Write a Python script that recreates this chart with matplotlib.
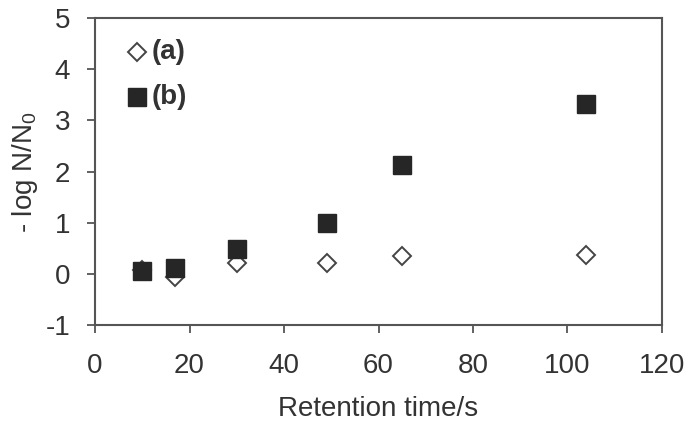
import matplotlib.pyplot as plt

plt.rcParams["font.family"] = ["Liberation Sans", "DejaVu Sans"]
plt.rcParams["axes.unicode_minus"] = False
plt.rcParams["mathtext.fontset"] = "custom"
plt.rcParams["mathtext.rm"] = "Liberation Sans"
plt.rcParams["mathtext.it"] = "Liberation Sans:italic"

# retention time (s) and inactivation (-log N/N0)
time_a = [10, 17, 30, 49, 65, 104]
logred_a = [0.08, -0.07, 0.22, 0.22, 0.35, 0.37]
time_b = [10, 17, 30, 49, 65, 104]
logred_b = [0.05, 0.12, 0.48, 1.0, 2.13, 3.33]

axis_col = "#555555"
text_col = "#333333"
fs = 20

fig = plt.figure(figsize=(6.86, 4.30), dpi=100)
ax = fig.add_axes([0.1385, 0.244, 0.8265, 0.714])

ax.plot(time_a, logred_a, linestyle="none", marker="D", markersize=9,
        markerfacecolor="white", markeredgecolor="#444444", markeredgewidth=1.4,
        zorder=2)
ax.plot(time_b, logred_b, linestyle="none", marker="s", markersize=12.5,
        markerfacecolor="#262626", markeredgecolor="#262626", zorder=3)

ax.set_xlim(0, 120)
ax.set_ylim(-1, 5)
ax.set_xticks(range(0, 121, 20))
ax.set_yticks(range(-1, 6))

for sp in ax.spines.values():
    sp.set_color(axis_col)
    sp.set_linewidth(1.5)
ax.tick_params(direction="out", length=6, width=1.3, color=axis_col,
               labelsize=fs, labelcolor=text_col)
ax.tick_params(axis="x", pad=14)
ax.tick_params(axis="y", pad=12)

ax.set_xlabel("Retention time/s", fontsize=fs, color=text_col, labelpad=12)
ax.set_ylabel("- log N/N$_\\mathrm{0}$", fontsize=fs, color=text_col, labelpad=4)

# legend drawn as markers + bold labels, like the original
ax.plot([8.9], [4.34], linestyle="none", marker="D", markersize=9,
        markerfacecolor="white", markeredgecolor="#444444",
        markeredgewidth=1.4)
ax.text(12.0, 4.34, "(a)", fontsize=fs, fontweight="bold", color=text_col,
        va="center")
ax.plot([8.9], [3.46], linestyle="none", marker="s", markersize=12.5,
        markerfacecolor="#262626", markeredgecolor="#262626")
ax.text(12.0, 3.46, "(b)", fontsize=fs, fontweight="bold", color=text_col,
        va="center")

fig.savefig("out.png", dpi=100)
